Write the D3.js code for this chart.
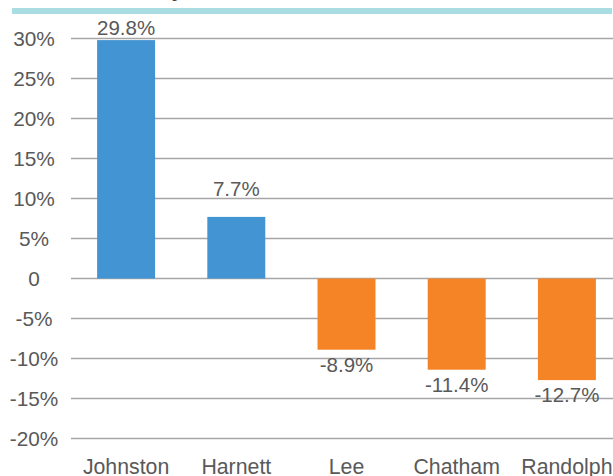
<!DOCTYPE html>
<html lang="en">
<head>
  <meta charset="UTF-8">
  <title>county-change</title>
  <script src="https://cdn.jsdelivr.net/npm/d3@7"></script>
  <style>
  body { margin: 0; background: #fff; }
  text { font-family: "Liberation Sans", Arial, sans-serif; fill: #595959; }
  </style>
</head>
<body>
<script type="text/javascript">
let counties = ['Johnston', 'Harnett', 'Lee', 'Chatham', 'Randolph'];
let change = [29.8, 7.7, -8.9, -11.4, -12.7];
let yTicks = [30, 25, 20, 15, 10, 5, 0, -5, -10, -15, -20];

let width = 613;
let height = 476;

let svg = d3.select('body').append('svg')
  .attr('width', width)
  .attr('height', height);

// title sits mostly above the visible area, only its descender shows
svg.append('text')
  .attr('x', 183)
  .attr('y', -3)
  .attr('text-anchor', 'end')
  .style('font-size', '20px')
  .style('font-weight', 'bold')
  .style('fill', '#404040')
  .text('County');

svg.append('rect')
  .attr('x', 12)
  .attr('y', 8)
  .attr('width', 600)
  .attr('height', 6)
  .attr('fill', '#a9dde1');

let x = d3.scaleBand()
  .domain(counties)
  .range([71, 622])
  .paddingInner(0.474)
  .paddingOuter(0.237);

let y = d3.scaleLinear()
  .domain([-20, 30])
  .range([438.5, 38.5]);

// gridlines
svg.append('g')
  .selectAll('line')
  .data(yTicks)
  .join('line')
  .attr('x1', 71)
  .attr('x2', 613)
  .attr('y1', d => y(d))
  .attr('y2', d => y(d))
  .attr('stroke', '#a6a6a6')
  .attr('stroke-width', 1.3);

// y tick labels, centred
svg.append('g')
  .selectAll('text')
  .data(yTicks)
  .join('text')
  .attr('x', 34)
  .attr('y', d => y(d))
  .attr('dy', '0.35em')
  .attr('text-anchor', 'middle')
  .style('font-size', '20.8px')
  .text(d => d === 0 ? '0' : d + '%');

let data = counties.map((c, i) => ({ county: c, value: change[i] }));

svg.append('g')
  .selectAll('rect')
  .data(data)
  .join('rect')
  .attr('x', d => x(d.county))
  .attr('width', x.bandwidth())
  .attr('y', d => y(Math.max(0, d.value)))
  .attr('height', d => Math.abs(y(d.value) - y(0)))
  .attr('fill', d => d.value >= 0 ? '#4394d3' : '#f58426');

// value labels
svg.append('g')
  .selectAll('text')
  .data(data)
  .join('text')
  .attr('x', d => x(d.county) + x.bandwidth() / 2)
  .attr('y', d => d.value >= 0 ? Math.max(35, y(d.value) - 21) : y(d.value) + 22)
  .attr('text-anchor', 'middle')
  .style('font-size', '20.5px')
  .text(d => d.value.toFixed(1) + '%');

// category labels
svg.append('g')
  .selectAll('text')
  .data(counties)
  .join('text')
  .attr('x', d => x(d) + x.bandwidth() / 2)
  .attr('y', 473.5)
  .attr('text-anchor', 'middle')
  .style('font-size', '21.3px')
  .text(d => d);
</script>
</body>
</html>
